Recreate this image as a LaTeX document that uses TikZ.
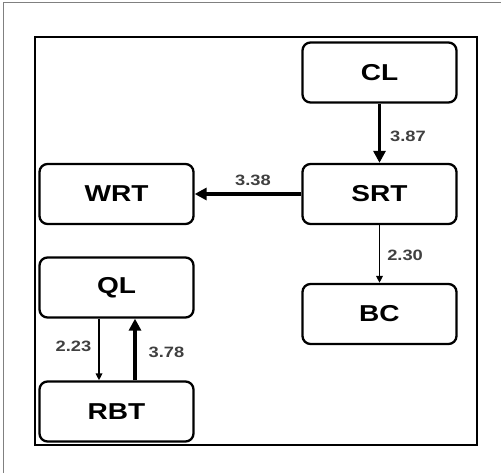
\documentclass[tikz,border=0pt]{standalone}
\usepackage{fontspec}
\setmainfont{Liberation Sans}
\newfontfamily\boxfont[FakeStretch=1.22]{Liberation Sans Bold}
\usetikzlibrary{arrows.meta}

\begin{document}
\begin{tikzpicture}[x=1pt, y=-1pt,
  box/.style={draw, line width=2.3pt, rounded corners=8pt, minimum width=154pt,
    minimum height=60pt, inner sep=0pt, font=\boxfont\fontsize{23}{26}\selectfont},
  strong/.style={line width=3.3pt, -{Triangle[length=12pt, width=12pt]}},
  weak/.style={line width=1.6pt, -{Triangle[length=7pt, width=6.5pt]}},
  val/.style={font=\boxfont\fontsize{15}{17}\selectfont, text=black!75, inner sep=1pt}]
  \useasboundingbox (0,0) rectangle (501,473);

  % Frames
  \draw[gray, line width=1pt] (3,473) -- (3,3) -- (501,3);
  \draw[line width=2.2pt] (35,37) rectangle (477,445);

  % Boxes
  \node[box] (CL)  at (379.5,72.5) {CL};
  \node[box] (SRT) at (379.5,194)  {SRT};
  \node[box] (WRT) at (116.5,194)  {WRT};
  \node[box] (BC)  at (379.5,314)  {BC};
  \node[box] (QL)  at (116.5,287.5) {QL};
  \node[box] (RBT) at (116.5,411.5) {RBT};

  % Links
  \draw[strong] (CL) -- node[val, right=8pt, yshift=-3pt] {3.87} (SRT);
  \draw[strong] (SRT) -- node[val, above=6pt, xshift=5pt] {3.38} (WRT);
  \draw[weak] (SRT) -- node[val, right=6pt, yshift=-1pt] {2.30} (BC);
  \draw[weak] ([xshift=-17.5pt]QL.south) -- node[val, left=6pt, yshift=3pt] {2.23} ([xshift=-17.5pt]RBT.north);
  \draw[strong] ([xshift=18.5pt]RBT.north) -- node[val, right=11pt, yshift=-3pt] {3.78} ([xshift=18.5pt]QL.south);
\end{tikzpicture}
\end{document}
